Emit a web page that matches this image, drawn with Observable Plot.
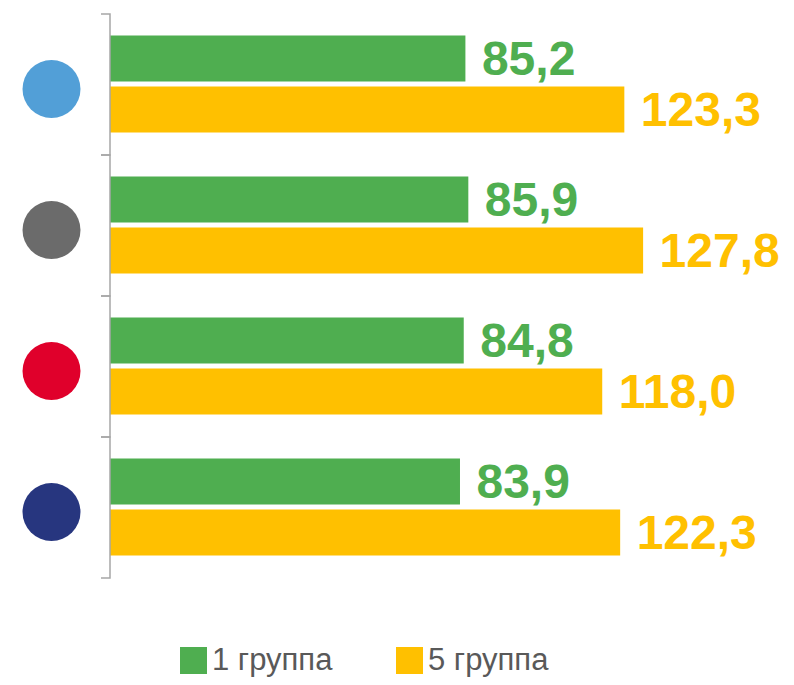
<!DOCTYPE html>
<html>
<head>
<meta charset="utf-8">
<script src="https://cdn.jsdelivr.net/npm/d3@7"></script>
<script src="https://cdn.jsdelivr.net/npm/@observablehq/plot@0.6"></script>
<style>
  body { margin: 0; background: #fff; font-family: Arial, "Liberation Sans", sans-serif; }
  #wrap { position: relative; width: 794px; height: 685px; }
  #legend { position: absolute; top: 645px; left: 0; width: 794px; height: 30px; font-size: 31px; color: #595959; line-height: 30px; }
  .item { position: absolute; top: 0; display: flex; align-items: center; height: 30px; }
  .sw { width: 27px; height: 27px; margin-right: 5px; }
</style>
</head>
<body>
<div id="wrap"><div id="chart"></div><div id="legend"></div></div>
<script>
const categories = ["Категория 1", "Категория 2", "Категория 3", "Категория 4"];
const categoryColors = ["#529FD7", "#6B6B6B", "#E0002B", "#27367F"];
const groups = ["1 группа", "5 группа"];
const groupColors = ["#4FAE50", "#FFC000"];
const group1Values = [85.2, 85.9, 84.8, 83.9];
const group5Values = [123.3, 127.8, 118.0, 122.3];
const legendLeft = [180, 396];

const data = categories.flatMap((c, i) => [
  {cat: c, group: groups[0], value: group1Values[i], color: groupColors[0]},
  {cat: c, group: groups[1], value: group5Values[i], color: groupColors[1]}
]);
const dots = categories.map((c, i) => ({cat: c, color: categoryColors[i]}));

const fmt = d3.formatLocale({decimal: ",", thousands: " ", grouping: [3], currency: ["", ""]}).format(".1f");
const FONT = 'Arial, "Liberation Sans", sans-serif';

const axisMark = (index, scales, values, dims) => {
  const x0 = scales.x(0);
  const top = dims.marginTop, bottom = dims.height - dims.marginBottom;
  const g = d3.create("svg:g").attr("stroke", "#A6A6A6").attr("stroke-width", 1.5).attr("fill", "none");
  g.append("path").attr("d", `M${x0 - 9},${top}H${x0}V${bottom}H${x0 - 9}`);
  return g.node();
};

const chart = Plot.plot({
  width: 794,
  height: 620,
  marginLeft: 110,
  marginRight: 100,
  marginTop: 13.5,
  marginBottom: 41.5,
  style: {fontFamily: FONT, background: "white"},
  x: {domain: [0, 140], axis: null},
  y: {domain: groups, paddingInner: 0.096, paddingOuter: 0.406, axis: null},
  fy: {domain: categories, padding: 0, axis: null},
  color: {type: "identity"},
  marks: [
    Plot.barX(data, {x: "value", y: "group", fy: "cat", fill: "color"}),
    Plot.text(data, {x: "value", y: "group", fy: "cat", text: d => fmt(d.value), fill: "color",
      textAnchor: "start", dx: 16, dy: 1, fontSize: 48, fontWeight: "bold", fontFamily: FONT}),
    Plot.dot(dots, {fy: "cat", frameAnchor: "left", dx: -59, dy: 4, r: 29, fill: "color", stroke: null}),
    axisMark
  ]
});
document.getElementById("chart").appendChild(chart);

const legend = document.getElementById("legend");
groups.forEach((g, i) => {
  const item = document.createElement("div");
  item.className = "item";
  item.style.left = legendLeft[i] + "px";
  const sw = document.createElement("div");
  sw.className = "sw";
  sw.style.background = groupColors[i];
  const t = document.createElement("span");
  t.textContent = g;
  item.appendChild(sw);
  item.appendChild(t);
  legend.appendChild(item);
});
</script>
</body>
</html>
